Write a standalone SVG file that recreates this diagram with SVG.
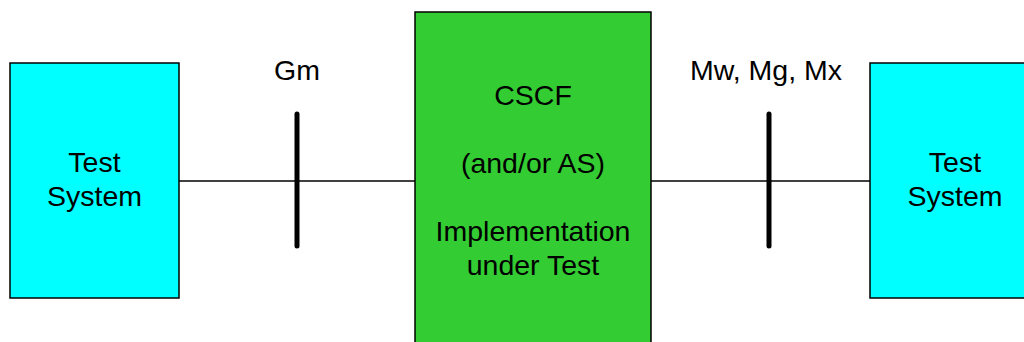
<svg xmlns="http://www.w3.org/2000/svg" width="1024" height="342" viewBox="0 0 1024 342">
  <style>
    .box { stroke: #000; stroke-width: 1.5; }
    .ts { fill: #00FFFF; }
    .iut { fill: #33CC33; }
    .lbl { font-family: "Liberation Sans", Arial, sans-serif; font-size: 28.5px; fill: #000; text-anchor: middle; }
    .link { stroke: #000; stroke-width: 1.5; fill: none; }
    .ref { stroke: #000; stroke-width: 5; stroke-linecap: round; }
  </style>
  <rect width="1024" height="342" fill="#fff"/>

  <g id="connectors">
    <line class="link" x1="179" y1="181" x2="415" y2="181"/>
    <line class="link" x1="651" y1="181" x2="870" y2="181"/>
    <line class="ref" x1="297" y1="114" x2="297" y2="246"/>
    <line class="ref" x1="769" y1="114" x2="769" y2="246"/>
    <text class="lbl" x="297" y="80">Gm</text>
    <text class="lbl" x="766" y="80">Mw, Mg, Mx</text>
  </g>

  <g id="test-system-left">
    <rect class="box ts" x="10" y="63" width="169" height="235"/>
    <text class="lbl" x="94.5" y="172">Test</text>
    <text class="lbl" x="94.5" y="206">System</text>
  </g>

  <g id="iut">
    <rect class="box iut" x="415" y="12" width="236" height="340"/>
    <text class="lbl" x="533" y="105">CSCF</text>
    <text class="lbl" x="533" y="173">(and/or AS)</text>
    <text class="lbl" x="533" y="241">Implementation</text>
    <text class="lbl" x="533" y="275">under Test</text>
  </g>

  <g id="test-system-right">
    <rect class="box ts" x="870" y="63" width="169" height="235"/>
    <text class="lbl" x="955" y="172">Test</text>
    <text class="lbl" x="955" y="206">System</text>
  </g>
</svg>
